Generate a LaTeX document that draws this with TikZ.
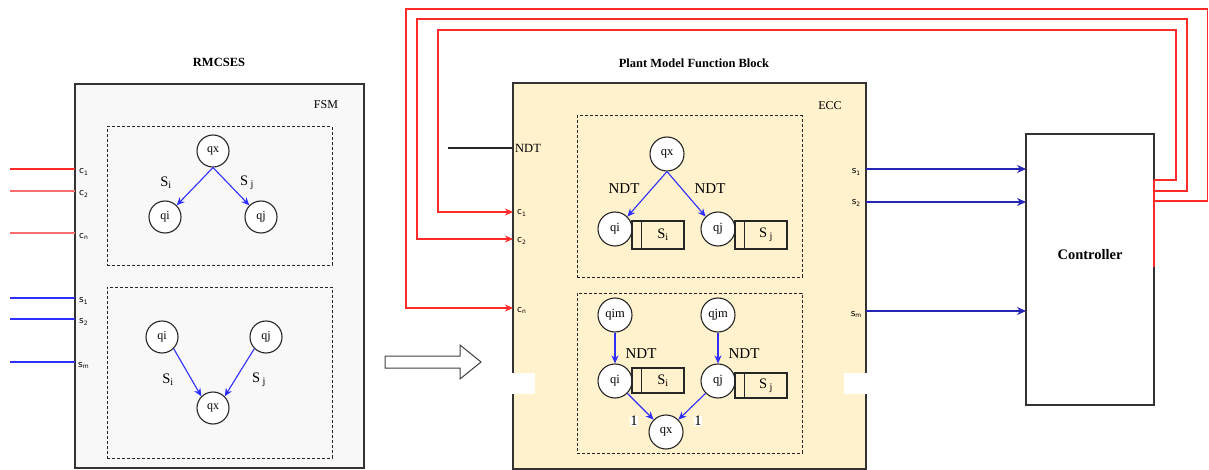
\documentclass[tikz,border=0pt]{standalone}
\usepackage{fontspec}
\setmainfont{Liberation Serif}
\setsansfont{DejaVu Sans}
\usetikzlibrary{arrows.meta}
\definecolor{leftbg}{HTML}{F8F8F8}
\definecolor{yel}{HTML}{FFF2CC}
\definecolor{redl}{HTML}{FF2A2A}
\definecolor{pinkl}{HTML}{FF6E6E}
\definecolor{bluel}{HTML}{2E2EFF}
\definecolor{navy}{HTML}{2525B8}
\definecolor{frame}{HTML}{333333}
\begin{document}
\begin{tikzpicture}[x=1pt,y=-1pt,
  bigbox/.style={draw=frame,line width=1.2pt,anchor=north west,inner sep=0pt,outer sep=0pt},
  dbox/.style={draw=black!85,dash pattern=on 3pt off 2pt,line width=1pt,anchor=north west,inner sep=0pt,outer sep=0pt},
  stateA/.style={circle,draw=black!85,line width=1.1pt,fill=white,minimum size=32pt,inner sep=0pt,font=\fontsize{12}{14}\selectfont},
  stateB/.style={circle,draw=black!85,line width=1.1pt,fill=white,minimum size=34pt,inner sep=0pt,font=\fontsize{12.5}{14}\selectfont},
  tr/.style={draw=bluel,line width=1.1pt,-{Stealth[length=8pt,width=7pt]}},
  elab/.style={font=\fontsize{14.5}{16}\selectfont,inner sep=1pt},
  sbox/.style={draw=black!85,line width=1.1pt,minimum width=52pt,inner sep=0pt},
  port/.style={font=\sffamily\fontsize{9}{10}\selectfont,inner sep=1pt},
  redw/.style={draw=redl,line width=1.1pt},
  redarr/.style={draw=redl,line width=1.1pt,-{Stealth[length=8pt,width=7pt]}},
  bluarr/.style={draw=navy,line width=1.2pt,-{Stealth[length=9pt,width=8pt]}},
  ttl/.style={font=\bfseries\fontsize{12.5}{14}\selectfont}
]
\useasboundingbox (0,0) rectangle (1209,470);

%================ LEFT: RMCSES =================
\node[ttl] (rmc) at (219,62) {RMCSES};
\node[bigbox,fill=leftbg,minimum width=289pt,minimum height=384pt] (fsm) at (75,84) {};
\node[font=\fontsize{12}{14}\selectfont] (fsmlab) at (326,105) {FSM};
\node[dbox,minimum width=225pt,minimum height=138pt] (lup) at (107,127) {};
\node[dbox,minimum width=225pt,minimum height=171pt] (llo) at (107,287) {};

\node[stateA] (Lqx) at (213,151) {qx};
\node[stateA] (Lqi) at (165,217) {qi};
\node[stateA] (Lqj) at (261,217) {qj};
\draw[tr] (Lqx.south) -- (Lqi.north east);
\draw[tr] (Lqx.south) -- (Lqj.north west);
\node[elab] (Lsi) at (166,183) {S\textsubscript{i}};
\node[elab] (Lsj) at (247,183) {S\,\textsubscript{j}};

\node[stateA] (Lqi2) at (162,337) {qi};
\node[stateA] (Lqj2) at (266,337) {qj};
\node[stateA] (Lqx2) at (213,408) {qx};
\draw[tr] (Lqi2.south east) -- (Lqx2.north west);
\draw[tr] (Lqj2.south west) -- (Lqx2.north east);
\node[elab] (Lsi2) at (168,380) {S\textsubscript{i}};
\node[elab] (Lsj2) at (259,380) {S\,\textsubscript{j}};

% left ports
\coordinate (lc1) at (75,169);
\coordinate (lc2) at (75,191);
\coordinate (lcn) at (75,233);
\coordinate (ls1) at (75,298);
\coordinate (ls2) at (75,319);
\coordinate (lsm) at (75,362);
\coordinate (lc1e) at (10,169);
\coordinate (lc2e) at (10,191);
\coordinate (lcne) at (10,233);
\coordinate (ls1e) at (10,298);
\coordinate (ls2e) at (10,319);
\coordinate (lsme) at (10,362);
\draw[draw=redl,line width=1.1pt] (lc1e) -- (lc1);
\draw[draw=pinkl,line width=1.1pt] (lc2e) -- (lc2);
\draw[draw=pinkl,line width=1.1pt] (lcne) -- (lcn);
\draw[draw=bluel,line width=1.1pt] (ls1e) -- (ls1);
\draw[draw=bluel,line width=1.1pt] (ls2e) -- (ls2);
\draw[draw=bluel,line width=1.1pt] (lsme) -- (lsm);
\node[port,anchor=west] (tlc1) at (78,172) {c\textsubscript{1}};
\node[port,anchor=west] (tlc2) at (78,194) {c\textsubscript{2}};
\node[port,anchor=west] (tlcn) at (78,236) {c\textsubscript{n}};
\node[port,anchor=west] (tls1) at (78,301) {s\textsubscript{1}};
\node[port,anchor=west] (tls2) at (78,322) {s\textsubscript{2}};
\node[port,anchor=west] (tlsm) at (77,365) {s\textsubscript{m}};

%================ hollow arrow =================
\draw[draw=black!75,line width=1pt,fill=white] (385,356) -- (460,356) -- (460,345) -- (481,362) -- (460,379) -- (460,368) -- (385,368) -- cycle;

%================ MIDDLE: Plant Model FB =================
\node[ttl] (pmfb) at (694,63) {Plant Model Function Block};
\node[bigbox,fill=yel,minimum width=353pt,minimum height=386pt] (pm) at (513,83) {};
\node[font=\fontsize{12}{14}\selectfont] (ecc) at (830,106) {ECC};
\node[dbox,minimum width=225pt,minimum height=161pt] (mup) at (577,116) {};
\node[dbox,minimum width=225pt,minimum height=160pt] (mlo) at (577,293) {};

% white patches
\fill[white] (512,373) rectangle (535,394);
\fill[white] (844,373) rectangle (867,394);

% upper ECC
\node[stateB] (Mqx) at (667,154) {qx};
\node[stateB] (Mqi) at (615,229) {qi};
\node[stateB] (Mqj) at (718,229) {qj};
\draw[tr] (Mqx.south) -- (Mqi.north east);
\draw[tr] (Mqx.south) -- (Mqj.north west);
\node[elab,font=\fontsize{15}{17}\selectfont] (n1) at (624,189) {NDT};
\node[elab,font=\fontsize{15}{17}\selectfont] (n2) at (710,189) {NDT};
\node[sbox,minimum height=28pt] (sb1) at (658,235) {};
\draw[draw=black!85,line width=1.1pt] ([xshift=10pt]sb1.north west) -- ([xshift=10pt]sb1.south west);
\node[elab] (sb1t) at ([xshift=5pt]sb1.center) {S\textsubscript{i}};
\node[sbox,minimum height=28pt] (sb2) at (761,235) {};
\draw[draw=black!85,line width=1.1pt] ([xshift=10pt]sb2.north west) -- ([xshift=10pt]sb2.south west);
\node[elab] (sb2t) at ([xshift=5pt]sb2.center) {S\,\textsubscript{j}};

% lower ECC
\node[stateB] (Mqim) at (615,315) {qim};
\node[stateB] (Mqjm) at (718,315) {qjm};
\node[stateB] (Mqi2) at (615,381) {qi};
\node[stateB] (Mqj2) at (718,381) {qj};
\node[stateB] (Mqx2) at (666,432) {qx};
\draw[tr] (Mqim.south) -- (Mqi2.north);
\draw[tr] (Mqjm.south) -- (Mqj2.north);
\draw[tr] (Mqi2.south east) -- (Mqx2.north west);
\draw[tr] (Mqj2.south west) -- (Mqx2.north east);
\node[elab,font=\fontsize{15}{17}\selectfont] (n3) at (641,354) {NDT};
\node[elab,font=\fontsize{15}{17}\selectfont] (n4) at (744,354) {NDT};
\node[elab,fill=white,inner sep=0.5pt] (one1) at (634,421) {1};
\node[elab,fill=white,inner sep=0.5pt] (one2) at (698,421) {1};
\node[sbox,minimum height=25pt] (sb3) at (658,380.5) {};
\draw[draw=black!85,line width=1.1pt] ([xshift=10pt]sb3.north west) -- ([xshift=10pt]sb3.south west);
\node[elab] (sb3t) at ([xshift=5pt]sb3.center) {S\textsubscript{i}};
\node[sbox,minimum height=25pt] (sb4) at (761,385.5) {};
\draw[draw=black!85,line width=1.1pt] ([xshift=10pt]sb4.north west) -- ([xshift=10pt]sb4.south west);
\node[elab] (sb4t) at ([xshift=5pt]sb4.center) {S\,\textsubscript{j}};

% NDT input
\coordinate (ndtin) at (513,148);
\coordinate (ndtst) at (448,148);
\draw[draw=black!85,line width=1.1pt] (ndtst) -- (ndtin);
\node[font=\fontsize{12.5}{14}\selectfont,anchor=west,inner sep=1pt] (ndtl) at (514,148) {NDT};

% middle ports
\coordinate (mc1) at (513,212);
\coordinate (mc2) at (513,239);
\coordinate (mcn) at (513,308);
\node[port,anchor=west] (tmc1) at (516,213) {c\textsubscript{1}};
\node[port,anchor=west] (tmc2) at (516,241) {c\textsubscript{2}};
\node[port,anchor=west] (tmcn) at (516,310) {c\textsubscript{n}};
\coordinate (ms1) at (866,169);
\coordinate (ms2) at (866,202);
\coordinate (msm) at (866,311);
\node[port,anchor=east] (tms1) at (862,172) {s\textsubscript{1}};
\node[port,anchor=east] (tms2) at (862,203) {s\textsubscript{2}};
\node[port,anchor=east] (tmsm) at (863,314) {s\textsubscript{m}};

%================ Controller =================
\node[bigbox,fill=white,minimum width=128pt,minimum height=271pt] (ctrl) at (1026,134) {};
\node[font=\bfseries\fontsize{14.5}{16}\selectfont] (ctrlt) at (1090,255) {Controller};
\coordinate (ct1) at (1154,180);
\coordinate (ct2) at (1154,191);
\coordinate (ct3) at (1154,201);
\coordinate (ctred) at (1154,267);
\draw[redw] (ct1) -- (ctred);

% blue outputs
\draw[bluarr] (ms1) -- (ms1 -| ctrl.west);
\draw[bluarr] (ms2) -- (ms2 -| ctrl.west);
\draw[bluarr] (msm) -- (msm -| ctrl.west);

% red feedback loops
\draw[redarr] (ct1) -- (1176,180) -- (1176,30) -- (438,30) -- (438,212) -- (mc1);
\draw[redarr] (ct2) -- (1187,191) -- (1187,19) -- (417,19) -- (417,239) -- (mc2);
\draw[redarr] (ct3) -- (1207.5,201) -- (1207.5,9) -- (406,9) -- (406,308) -- (mcn);
\end{tikzpicture}
\end{document}
